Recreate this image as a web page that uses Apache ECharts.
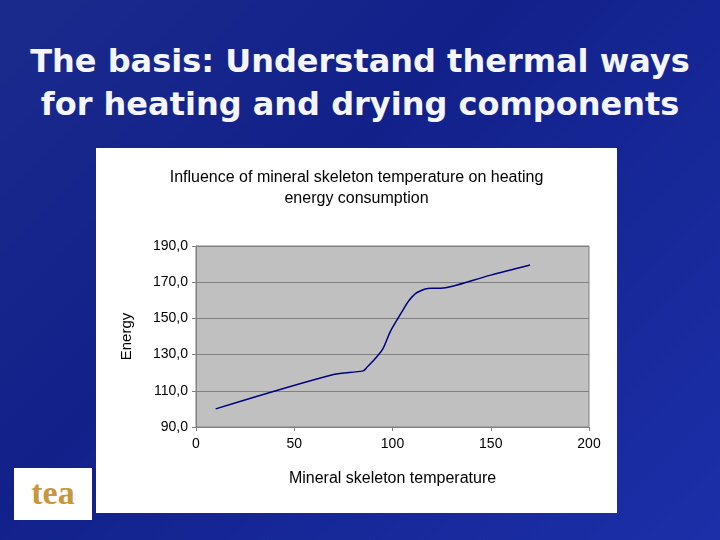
<!DOCTYPE html>
<html>
<head>
<meta charset="utf-8">
<script src="https://cdn.jsdelivr.net/npm/echarts@6/dist/echarts.min.js"></script>
<style>
body{margin:0;width:720px;height:540px;overflow:hidden;
background:linear-gradient(135deg,#1a2a8c 0%,#12218a 40%,#1c2fa8 100%);font-family:"DejaVu Sans",sans-serif;}
#title{position:absolute;left:0;top:40px;width:720px;text-align:center;color:#f4f6fc;font-weight:bold;font-size:32px;line-height:43px;}
#panel{position:absolute;left:96px;top:148px;width:521px;height:365px;background:#fff;}
#chart{position:absolute;left:0;top:0;width:521px;height:365px;}
#logo{position:absolute;left:14px;top:468px;width:78px;height:52px;background:#fff;color:#c8963c;font:bold 34px "Liberation Serif",serif;text-align:center;line-height:50px;}
</style>
</head>
<body>
<div id="title">The basis: Understand thermal ways<br>for heating and drying components</div>
<div id="panel"><div id="chart"></div></div>
<div id="logo">tea</div>
<script>
// values
var temperature = [10, 70, 85, 87, 91, 95, 99, 105, 108.5, 112.5, 119.5, 124.5, 130, 150, 170];
var energy = [100, 119, 121, 123, 127.6, 133, 143, 154, 160, 164.3, 166.7, 166.7, 167.6, 173.9, 179.5];
var yTicks = [90, 110, 130, 150, 170, 190];

var myChart = echarts.init(document.getElementById('chart'));
var option = {
  animation: false,
  textStyle: {fontFamily: 'Liberation Sans, Arial, sans-serif'},
  title: {
    text: 'Influence of mineral skeleton temperature on heating\nenergy consumption',
    left: 'center', top: 14,
    textStyle: {fontSize: 16, fontWeight: 'normal', color: '#000', lineHeight: 21}
  },
  grid: {left: 100, right: 28, top: 98, bottom: 86, backgroundColor: '#c0c0c0', show: true, borderColor: '#808080', borderWidth: 1},
  xAxis: {
    type: 'value', min: 0, max: 200, interval: 50,
    name: 'Mineral skeleton temperature', nameLocation: 'middle', nameGap: 44,
    nameTextStyle: {fontSize: 16, color: '#000'},
    axisLine: {lineStyle: {color: '#808080'}},
    axisTick: {show: true, inside: false, length: 4, lineStyle: {color: '#808080'}},
    axisLabel: {fontSize: 14, color: '#000', margin: 10},
    splitLine: {show: false}
  },
  yAxis: {
    type: 'value', min: yTicks[0], max: yTicks[yTicks.length - 1], interval: 20,
    name: 'Energy', nameLocation: 'middle', nameGap: 62,
    nameTextStyle: {fontSize: 15, color: '#000'},
    axisLine: {show: true, lineStyle: {color: '#808080'}},
    axisTick: {show: true, length: 4, lineStyle: {color: '#808080'}},
    axisLabel: {fontSize: 14, color: '#000', formatter: function (v) { return v.toFixed(1).replace('.', ','); }},
    splitLine: {lineStyle: {color: '#808080'}}
  },
  series: [{
    type: 'line', smooth: 0.3, symbol: 'none',
    lineStyle: {color: '#000080', width: 1.5},
    data: temperature.map(function (t, i) { return [t, energy[i]]; })
  }]
};
option && myChart.setOption(option);
</script>
</body>
</html>
